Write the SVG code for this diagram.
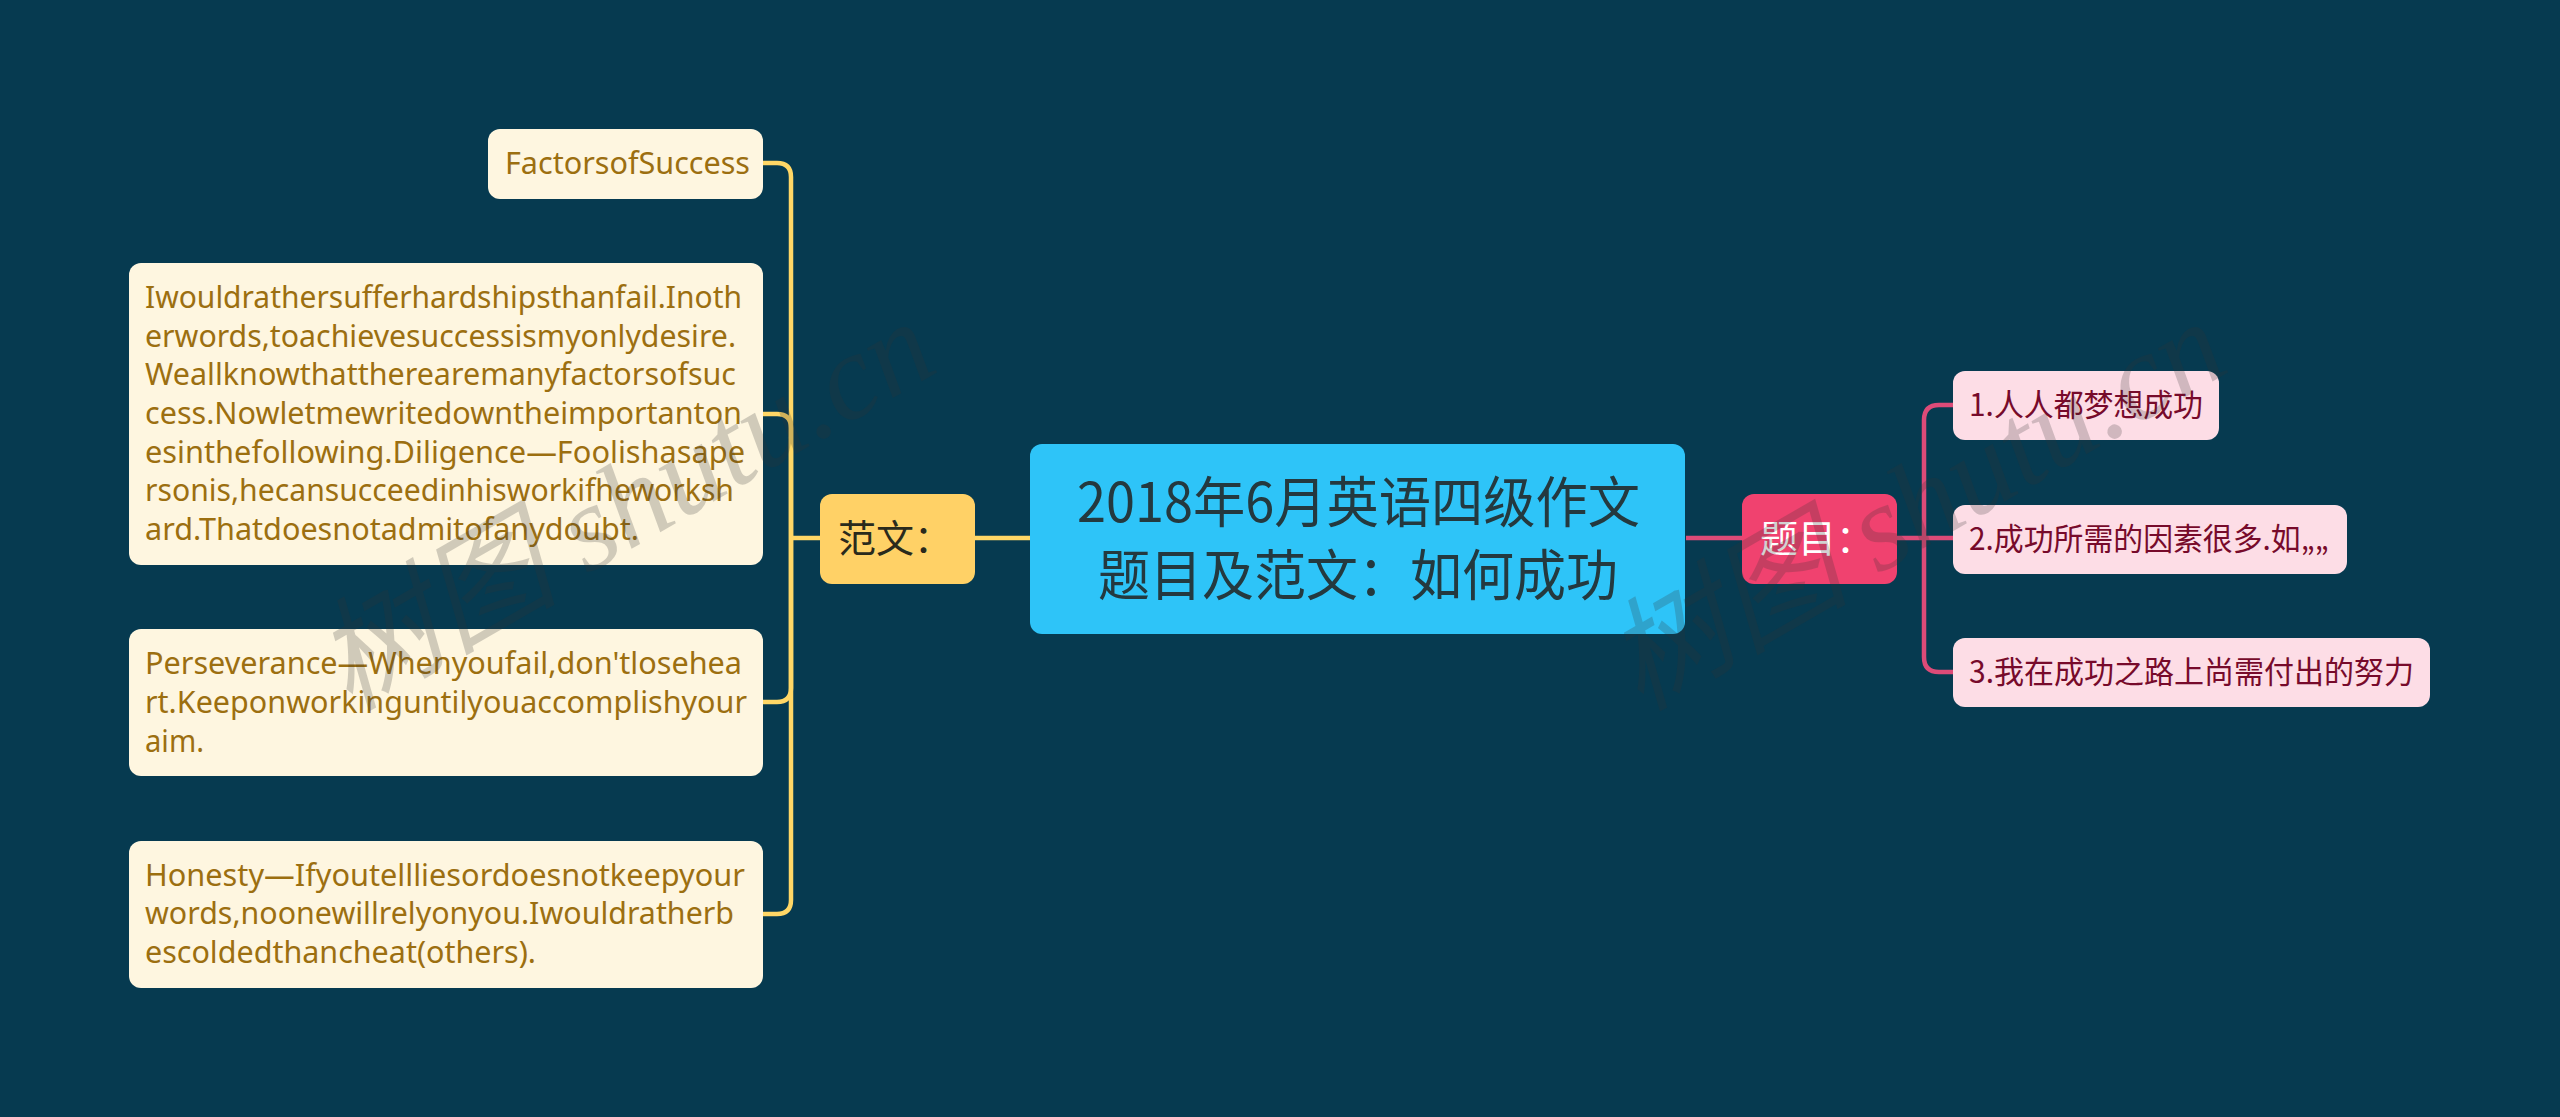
<svg xmlns="http://www.w3.org/2000/svg" width="2560" height="1117" viewBox="0 0 2560 1117">
<style>
text{font-family:"Noto Sans","Noto Sans CJK SC",sans-serif}
.l{fill:#fef6e0}.lt{fill:#9c6f10;font-size:31px}
.r{fill:#fddde6}.rt{fill:#770a2b;font-size:31px;font-family:"Noto Sans CJK SC",sans-serif}
.wire{fill:none;stroke-width:4.5;stroke-linecap:butt}
.y{stroke:#ffd766}.p{stroke:#dd4b78}
.wm{font-family:"Liberation Serif","Noto Sans CJK SC",serif;font-style:italic;font-size:122px;fill:#333;opacity:.22}
.ti{font-family:"Noto Sans CJK SC",sans-serif;font-size:55px;fill:#24393f}
</style>
<rect width="2560" height="1117" fill="#063a50"/>
<g id="connectors">
<path class="wire y" d="M975 538H1030"/>
<path class="wire y" d="M820 538H791"/>
<path class="wire y" d="M763 163H777Q791 163 791 177V900Q791 914 777 914H763"/>
<path class="wire y" d="M763 414H777Q791 414 791 428V688Q791 702 777 702H763"/>
<path class="wire p" d="M1686 538H1742"/>
<path class="wire p" d="M1897 538H1953"/>
<path class="wire p" d="M1953 405H1939Q1924 405 1924 420V657Q1924 672 1939 672H1953"/>
</g>
<g id="root"><rect x="1030" y="444" width="655" height="190" rx="12" fill="#2ec4f8"/>
<text class="ti" x="1077" y="522" textLength="563" lengthAdjust="spacingAndGlyphs">2018年6月英语四级作文</text>
<text class="ti" x="1098" y="595" textLength="520" lengthAdjust="spacingAndGlyphs">题目及范文：如何成功</text></g>
<g id="branch-fanwen"><rect x="820" y="494" width="155" height="90" rx="12" fill="#ffd166"/>
<text x="838" y="552" font-size="38" fill="#2a2a1c" font-family="Noto Sans CJK SC">范文：</text></g>
<g id="branch-timu"><rect x="1742" y="494" width="155" height="90" rx="12" fill="#f0426f"/>
<text x="1760" y="552" font-size="38" fill="#fff" font-family="Noto Sans CJK SC">题目：</text></g>
<g id="n1"><rect class="l" x="488" y="129" width="275" height="70" rx="12"/>
<text class="lt" x="505" y="174" textLength="245" lengthAdjust="spacingAndGlyphs">FactorsofSuccess</text></g>
<g id="n2"><rect class="l" x="129" y="263" width="634" height="302" rx="12"/>
<text class="lt" x="145" y="308" textLength="597" lengthAdjust="spacingAndGlyphs">Iwouldrathersufferhardshipsthanfail.Inoth</text>
<text class="lt" x="145" y="347" textLength="591" lengthAdjust="spacingAndGlyphs">erwords,toachievesuccessismyonlydesire.</text>
<text class="lt" x="145" y="385" textLength="591" lengthAdjust="spacingAndGlyphs">Weallknowthattherearemanyfactorsofsuc</text>
<text class="lt" x="145" y="424" textLength="597" lengthAdjust="spacingAndGlyphs">cess.Nowletmewritedowntheimportanton</text>
<text class="lt" x="145" y="463" textLength="600" lengthAdjust="spacingAndGlyphs">esinthefollowing.Diligence—Foolishasape</text>
<text class="lt" x="145" y="501" textLength="589" lengthAdjust="spacingAndGlyphs">rsonis,hecansucceedinhisworkifheworksh</text>
<text class="lt" x="145" y="540" textLength="494" lengthAdjust="spacingAndGlyphs">ard.Thatdoesnotadmitofanydoubt.</text></g>
<g id="n3"><rect class="l" x="129" y="629" width="634" height="147" rx="12"/>
<text class="lt" x="145" y="674" textLength="597" lengthAdjust="spacingAndGlyphs">Perseverance—Whenyoufail,don'tlosehea</text>
<text class="lt" x="145" y="713" textLength="602" lengthAdjust="spacingAndGlyphs">rt.Keeponworkinguntilyouaccomplishyour</text>
<text class="lt" x="145" y="752" textLength="59" lengthAdjust="spacingAndGlyphs">aim.</text></g>
<g id="n4"><rect class="l" x="129" y="841" width="634" height="147" rx="12"/>
<text class="lt" x="145" y="886" textLength="600" lengthAdjust="spacingAndGlyphs">Honesty—Ifyoutellliesordoesnotkeepyour</text>
<text class="lt" x="145" y="924" textLength="589" lengthAdjust="spacingAndGlyphs">words,noonewillrelyonyou.Iwouldratherb</text>
<text class="lt" x="145" y="963" textLength="391" lengthAdjust="spacingAndGlyphs">escoldedthancheat(others).</text></g>
<g id="r1"><rect class="r" x="1953" y="371" width="266" height="69" rx="12"/>
<text class="rt" x="1969" y="416" textLength="234" lengthAdjust="spacingAndGlyphs">1.人人都梦想成功</text></g>
<g id="r2"><rect class="r" x="1953" y="505" width="394" height="69" rx="12"/>
<text class="rt" x="1969" y="550" textLength="360" lengthAdjust="spacingAndGlyphs">2.成功所需的因素很多.如„„</text></g>
<g id="r3"><rect class="r" x="1953" y="638" width="477" height="69" rx="12"/>
<text class="rt" x="1969" y="683" textLength="445" lengthAdjust="spacingAndGlyphs">3.我在成功之路上尚需付出的努力</text></g>
<g id="watermarks">
<text class="wm" transform="translate(349 712) rotate(-30)">树图 shutu.cn</text>
<text class="wm" transform="translate(1640 712) rotate(-30)">树图 shutu.cn</text>
</g>
</svg>
